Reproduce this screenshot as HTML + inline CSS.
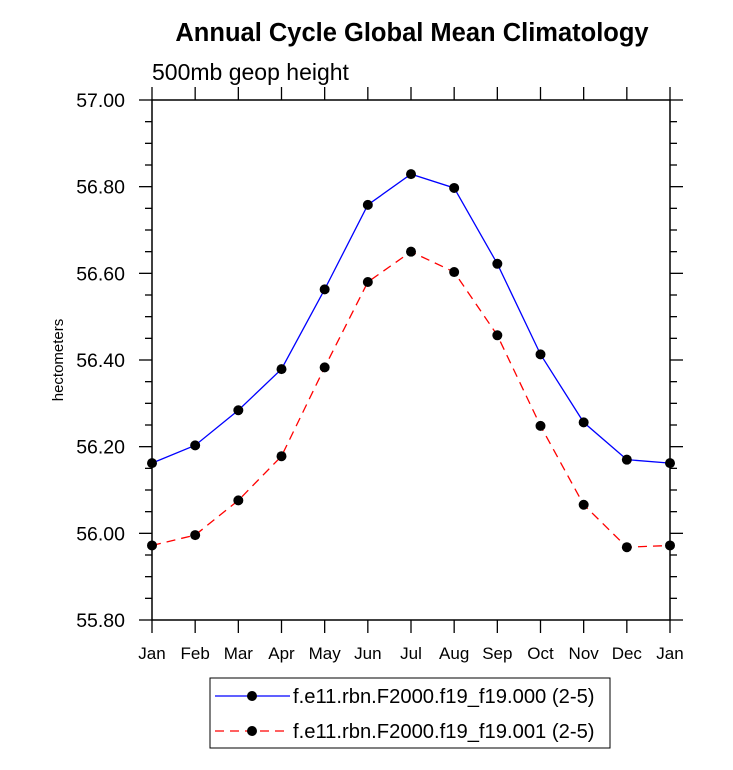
<!DOCTYPE html>
<html><head><meta charset="utf-8"><style>body{margin:0;background:#fff}svg{display:block}text{font-family:"Liberation Sans",Arial,sans-serif}</style></head>
<body>
<svg id="chart" width="733" height="770">
<text x="412" y="41" text-anchor="middle" font-size="25.5" font-weight="bold">Annual Cycle Global Mean Climatology</text>
<text x="152" y="80" font-size="23">500mb geop height</text>
<text transform="translate(63,360) rotate(-90)" text-anchor="middle" font-size="15">hectometers</text>
<g id="axes"></g><g id="series"></g>
<g>
<rect x="210" y="678" width="400" height="70" fill="none" stroke="#000" stroke-width="1"/>
<line x1="215" y1="696" x2="290" y2="696" stroke="#00f" stroke-width="1.3"/><circle cx="252" cy="696" r="5" fill="#000"/>
<text x="293" y="703" font-size="20.2">f.e11.rbn.F2000.f19_f19.000 (2-5)</text>
<line x1="215" y1="731" x2="290" y2="731" stroke="#f00" stroke-width="1.3" stroke-dasharray="9,6"/><circle cx="252" cy="731" r="5" fill="#000"/>
<text x="293" y="738" font-size="20.2">f.e11.rbn.F2000.f19_f19.001 (2-5)</text>
</g>
</svg>
<script>
const months=["Jan","Feb","Mar","Apr","May","Jun","Jul","Aug","Sep","Oct","Nov","Dec","Jan"];
const series000=[56.162,56.203,56.284,56.379,56.563,56.758,56.829,56.797,56.622,56.413,56.256,56.170,56.162];
const series001=[55.972,55.996,56.076,56.178,56.383,56.580,56.650,56.603,56.457,56.248,56.066,55.968,55.972];
const yTicks=[55.8,56.0,56.2,56.4,56.6,56.8,57.0];
const L=152,R=670,T=100,B=620,ymin=55.8,ymax=57.0;
const xs=i=>L+i*(R-L)/(months.length-1);
const ys=v=>B-(v-ymin)/(ymax-ymin)*(B-T);
const NS="http://www.w3.org/2000/svg";
function mk(tag,at,parent){const e=document.createElementNS(NS,tag);for(const k in at)e.setAttribute(k,at[k]);parent.appendChild(e);return e;}
const ax=document.getElementById('axes');
const frame=mk('rect',{x:L,y:T,width:R-L,height:B-T,fill:'none',stroke:'#000','stroke-width':1.5},ax);


months.forEach((m,i)=>{const x=xs(i);
mk('line',{x1:x,y1:B,x2:x,y2:B+13,stroke:'#000','stroke-width':1.3},ax);
mk('line',{x1:x,y1:T,x2:x,y2:T-13,stroke:'#000','stroke-width':1.3},ax);
const t=mk('text',{x:x,y:B+39,'text-anchor':'middle','font-size':17},ax);t.textContent=m;

});
for(let v=ymin;v<=ymax+1e-9;v+=0.05){const y=ys(v);const major=Math.abs(Math.round(v*10)/10-v)<1e-6&&Math.round(v*10)%2==0;
const len=major?13:7;
mk('line',{x1:L-len,y1:y,x2:L,y2:y,stroke:'#000','stroke-width':1.3},ax);
mk('line',{x1:R,y1:y,x2:R+len,y2:y,stroke:'#000','stroke-width':1.3},ax);}
yTicks.forEach(v=>{const t=mk('text',{x:L-27,y:ys(v)+7,'text-anchor':'end','font-size':19.5},ax);t.textContent=v.toFixed(2);

});
const sg=document.getElementById('series');
function draw(vals,color,dash,name){
const pts=vals.map((v,i)=>xs(i)+','+ys(v)).join(' ');
const pl=mk('polyline',{points:pts,fill:'none',stroke:color,'stroke-width':1.3,'stroke-dasharray':dash},sg);


vals.forEach((v,i)=>{const c=mk('circle',{cx:xs(i),cy:ys(v),r:5,fill:'#000'},sg);

});}
draw(series000,'#00f','none','series-000');
draw(series001,'#f00','9,6','series-001');
</script>
</body></html>
